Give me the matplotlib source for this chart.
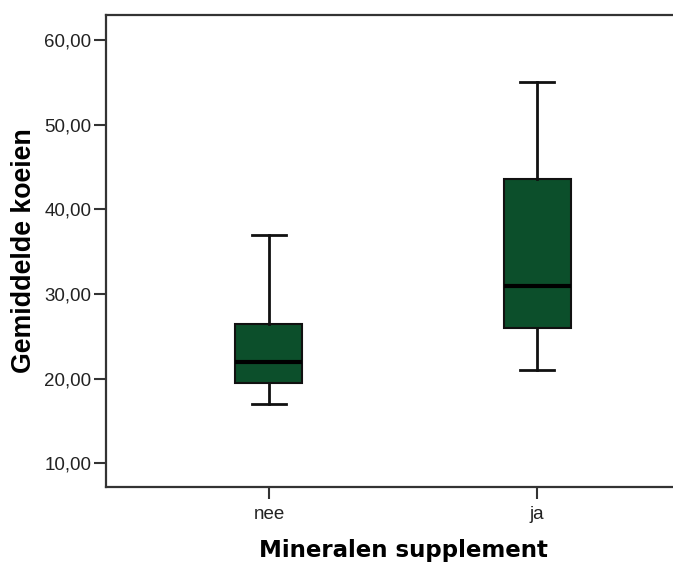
import matplotlib
matplotlib.use("Agg")
import matplotlib.pyplot as plt

# box statistics
groups = ["nee", "ja"]
whisker_low = [17.0, 21.0]
q1 = [19.5, 26.0]
medians = [22.0, 31.0]
q3 = [26.5, 43.6]
whisker_high = [37.0, 55.0]
yticks = [10, 20, 30, 40, 50, 60]

stats = []
for i, g in enumerate(groups):
    stats.append({"label": g, "whislo": whisker_low[i], "q1": q1[i], "med": medians[i],
                  "q3": q3[i], "whishi": whisker_high[i], "fliers": []})

fig = plt.figure(figsize=(6.73, 5.65), dpi=100)
ax = fig.add_axes([106 / 673, 1 - 487 / 565, 594 / 673, 472 / 565])

green = "#0c4f2b"
ax.bxp(stats, positions=[0, 1], widths=0.25, patch_artist=True, showfliers=False,
       boxprops=dict(facecolor=green, edgecolor="#111111", linewidth=1.5),
       medianprops=dict(color="black", linewidth=3),
       whiskerprops=dict(color="#111111", linewidth=2),
       capprops=dict(color="#111111", linewidth=2),
       capwidths=0.125)

ax.set_xlim(-0.608, 1.608)
ax.set_ylim(7.2, 62.95)
ax.set_yticks(yticks)
ax.set_yticklabels([f"{v:.2f}".replace(".", ",") for v in yticks],
                   family="Liberation Sans", fontsize=13.5, color="#222222")
ax.set_xticks([0, 1])
ax.set_xticklabels(groups, family="Liberation Sans", fontsize=13.5, color="#222222")
ax.tick_params(axis="y", length=8.5, width=1.5, color="#333333", pad=2)
ax.tick_params(axis="x", length=8.5, width=1.5, color="#333333", pad=5)

for s in ["left", "bottom", "top"]:
    ax.spines[s].set_linewidth(1.6)
    ax.spines[s].set_color("#333333")
ax.spines["right"].set_visible(False)

ax.set_ylabel("Gemiddelde koeien", family="Liberation Sans", fontweight="bold",
              fontsize=19.3, labelpad=5)
ax.set_xlabel("Mineralen supplement", family="DejaVu Sans", fontweight="bold",
              fontsize=16.5, labelpad=12)

fig.savefig("out.png", dpi=100)
